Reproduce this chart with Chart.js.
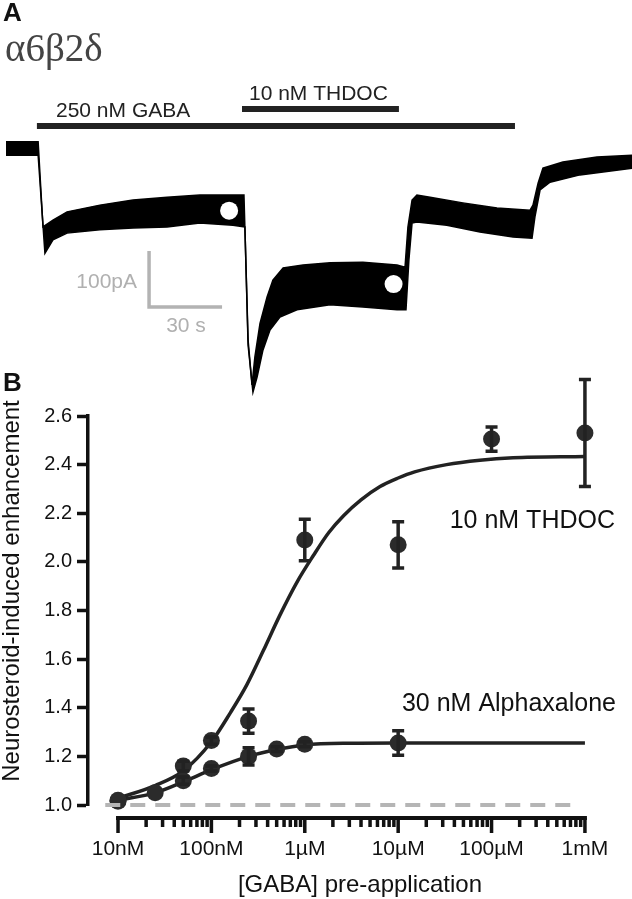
<!DOCTYPE html>
<html>
<head>
<meta charset="utf-8">
<script src="https://cdn.jsdelivr.net/npm/chart.js@4.4.0/dist/chart.umd.min.js"></script>
<style>
  html, body { margin: 0; padding: 0; background: #fff; }
  #wrap { position: relative; width: 632px; height: 899px; overflow: hidden; }
  canvas { position: absolute; left: 0; }
  #trace { top: 0; }
  #dose { top: 360px; }
</style>
</head>
<body>
<div id="wrap">
  <canvas id="trace" width="632" height="400"></canvas>
  <canvas id="dose" width="632" height="539"></canvas>
</div>
<script>
const FONT = '"Liberation Sans", Arial, Helvetica, sans-serif';
const INK = '#222';

// ---- panel A: current trace (time in s, current in pA), edges of the noisy band
const upperT = [0, 13.2, 15.2, 19.3, 25.1, 38.6, 52.2, 66.2, 79.7, 93.3, 97.8, 99.5, 101.1, 102.3, 104.4, 107.3, 109.7, 113.9, 122.1, 133.2, 146.7, 160.7, 164.0, 165.2, 166.9, 168.9, 174.3, 187.8, 201.8, 215.4, 216.6, 218.7, 220.7, 228.9, 242.9, 257.3];
const upperI = [11, 11, -141, -129, -114, -102, -93, -88, -84, -84, -84, -343, -423, -373, -313, -266, -236, -214, -209, -205, -204, -209, -213, -141, -93, -84, -88, -98, -107, -111, -102, -63, -36, -25, -16, -13];
const lowerT = [0, 13.2, 16.0, 19.3, 25.1, 38.6, 52.2, 66.2, 79.7, 93.3, 98.2, 99.5, 101.5, 103.2, 105.6, 108.5, 112.6, 119.6, 133.2, 146.7, 160.7, 164.4, 165.6, 166.9, 168.9, 181.2, 194.8, 208.4, 216.2, 217.4, 219.5, 223.6, 235.9, 257.3];
const lowerI = [-13, -13, -188, -164, -152, -146, -143, -141, -134, -138, -141, -352, -436, -409, -361, -325, -302, -289, -280, -284, -289, -289, -200, -134, -132, -138, -150, -159, -161, -123, -75, -61, -48, -36];
const gabaBarT = [12.7, 209.2];
const thdocBarT = [97.0, 161.5];
const markT = [91.7, 159.3];
const markI = [-112, -243];
const scaleT = [58.8, 58.8, 88.8];   // 30 s
const scaleI = [-184, -284, -284];   // 100 pA

// ---- panel B: dose response
const concTicks = [1e-8, 1e-7, 1e-6, 1e-5, 1e-4, 1e-3];
const concLabels = ['10nM', '100nM', '1µM', '10µM', '100µM', '1mM'];

const thdocConc = [1e-8, 5e-8, 1e-7, 2.5e-7, 1e-6, 1e-5, 1e-4, 1e-3];
const thdocMean = [1.02, 1.16, 1.265, 1.345, 2.09, 2.07, 2.505, 2.53];
const thdocSem  = [0, 0.02, 0.015, 0.05, 0.085, 0.095, 0.05, 0.22];

const alphaConc = [1e-8, 2.5e-8, 5e-8, 1e-7, 2.5e-7, 5e-7, 1e-6, 1e-5];
const alphaMean = [1.015, 1.05, 1.10, 1.15, 1.20, 1.23, 1.25, 1.255];
const alphaSem  = [0, 0, 0.015, 0.01, 0.035, 0.01, 0.01, 0.05];

// fitted curves
const thdocFitConc = [1e-8, 2.5e-8, 5e-8, 1e-7, 1.6e-7, 2.4e-7, 3.6e-7, 5.4e-7, 8.2e-7, 1.23e-6, 1.8e-6, 2.6e-6, 4e-6, 6.4e-6, 1e-5, 1.5e-5, 3.3e-5, 7.5e-5, 1.7e-4, 1e-3];
const thdocFitVal  = [1.028, 1.08, 1.14, 1.26, 1.38, 1.495, 1.635, 1.78, 1.915, 2.025, 2.12, 2.19, 2.255, 2.31, 2.345, 2.37, 2.40, 2.418, 2.428, 2.433];
const alphaFitConc = [1e-8, 2.5e-8, 5e-8, 1e-7, 2.5e-7, 5e-7, 1e-6, 3e-6, 1e-5, 1e-3];
const alphaFitVal  = [1.02, 1.05, 1.095, 1.145, 1.20, 1.228, 1.247, 1.254, 1.255, 1.255];

const baseConc = [7.3e-9, 7.9e-4];
const baseVal = [1.0, 1.0];

const pts = (xs, ys) => xs.map((v, i) => ({ x: v, y: ys[i] }));

// ---------------- panel A ----------------
const traceText = {
  id: 'traceText',
  afterDraw(chart) {
    const c = chart.ctx;
    c.save();
    c.fillStyle = '#111';
    c.font = 'bold 26px ' + FONT;
    c.fillText('A', 3, 21);
    c.fillStyle = '#444';
    c.font = '39px "Liberation Serif", "DejaVu Serif", serif';
    c.fillText('α6β2δ', 5, 61);
    c.fillStyle = INK;
    c.font = '21px ' + FONT;
    c.fillText('250 nM GABA', 56, 117);
    c.fillText('10 nM THDOC', 249, 100);
    c.fillStyle = '#b0b0b0';
    c.textAlign = 'right';
    c.fillText('100pA', 137, 288);
    c.textAlign = 'center';
    c.fillText('30 s', 186, 332);
    c.restore();
  }
};

new Chart(document.getElementById('trace'), {
  type: 'line',
  data: {
    datasets: [
      { data: pts(markT, markI), showLine: false, pointRadius: 9, pointBackgroundColor: '#fff', pointBorderWidth: 0 },
      { data: pts(gabaBarT, [39.3, 39.3]), borderColor: INK, borderWidth: 6, pointRadius: 0 },
      { data: pts(thdocBarT, [69.6, 69.6]), borderColor: INK, borderWidth: 6, pointRadius: 0 },
      { data: pts(scaleT, scaleI), borderColor: '#b3b3b3', borderWidth: 3.5, pointRadius: 0, borderJoinStyle: 'miter' },
      { data: pts(upperT, upperI), borderColor: '#000', borderWidth: 1.5, pointRadius: 0, fill: false },
      { data: pts(lowerT, lowerI), borderColor: '#000', borderWidth: 1.5, pointRadius: 0, fill: '-1', backgroundColor: '#000' }
    ]
  },
  options: {
    responsive: false,
    animation: false,
    events: [],
    layout: { padding: 0, autoPadding: false },
    plugins: { legend: { display: false }, tooltip: { enabled: false } },
    scales: {
      x: { type: 'linear', min: -2.47, max: 257.3, display: false },
      y: { type: 'linear', min: -450, max: 264.3, display: false }
    }
  },
  plugins: [traceText]
});

// ---------------- panel B ----------------
const doseDecor = {
  id: 'doseDecor',
  afterDatasetsDraw(chart) {
    const { ctx: c, scales: { x, y } } = chart;
    c.save();
    c.strokeStyle = INK;
    c.lineWidth = 3.5;
    [[thdocConc, thdocMean, thdocSem], [alphaConc, alphaMean, alphaSem]].forEach(([cs, ms, ss]) => {
      cs.forEach((v, i) => {
        if (!ss[i]) return;
        const px = x.getPixelForValue(v);
        const top = y.getPixelForValue(ms[i] + ss[i]);
        const bot = y.getPixelForValue(ms[i] - ss[i]);
        c.beginPath();
        c.moveTo(px, top); c.lineTo(px, bot);
        c.moveTo(px - 6, top); c.lineTo(px + 6, top);
        c.moveTo(px - 6, bot); c.lineTo(px + 6, bot);
        c.stroke();
      });
    });
    c.restore();
  },
  afterDraw(chart) {
    const { ctx: c, scales: { x } } = chart;
    c.save();
    // offset log axis
    const ya = 458;
    const x0 = x.getPixelForValue(concTicks[0]) - 2;
    const x1 = x.getPixelForValue(concTicks[concTicks.length - 1]) + 2;
    c.strokeStyle = '#111';
    c.lineWidth = 4;
    c.beginPath(); c.moveTo(x0, ya); c.lineTo(x1, ya); c.stroke();
    c.lineWidth = 3.5;
    c.beginPath();
    concTicks.forEach((d, k) => {
      const px = x.getPixelForValue(d);
      c.moveTo(px, ya); c.lineTo(px, ya + 15);
      if (k < concTicks.length - 1) {
        for (let m = 2; m <= 9; m++) {
          const pm = x.getPixelForValue(d * m);
          c.moveTo(pm, ya); c.lineTo(pm, ya + 9);
        }
      }
    });
    c.stroke();
    c.fillStyle = '#111';
    c.font = '21px ' + FONT;
    c.textAlign = 'center';
    concTicks.forEach((d, k) => c.fillText(concLabels[k], x.getPixelForValue(d), 495));

    // axis titles
    c.font = '24px ' + FONT;
    c.fillText('[GABA] pre-application', 360, 532);
    c.save();
    c.translate(19, 231);
    c.rotate(-Math.PI / 2);
    c.fillText('Neurosteroid-induced enhancement', 0, 0);
    c.restore();

    // curve labels
    c.font = '25px ' + FONT;
    c.textAlign = 'right';
    c.fillText('10 nM THDOC', 615, 168);
    c.fillText('30 nM Alphaxalone', 616, 351);

    c.textAlign = 'left';
    c.font = 'bold 26px ' + FONT;
    c.fillText('B', 3, 31);
    c.restore();
  }
};

new Chart(document.getElementById('dose'), {
  type: 'line',
  data: {
    datasets: [
      { data: pts(baseConc, baseVal), borderColor: '#b5b5b5', borderWidth: 4, borderDash: [15, 10], pointRadius: 0, clip: false },
      { data: pts(thdocConc, thdocMean), showLine: false, pointRadius: 8.5, pointBackgroundColor: '#2b2b2b', pointBorderWidth: 0, clip: false },
      { data: pts(alphaConc, alphaMean), showLine: false, pointRadius: 8.5, pointBackgroundColor: '#2b2b2b', pointBorderWidth: 0, clip: false },
      { data: pts(thdocFitConc, thdocFitVal), borderColor: INK, borderWidth: 3.5, pointRadius: 0, cubicInterpolationMode: 'monotone', clip: false },
      { data: pts(alphaFitConc, alphaFitVal), borderColor: INK, borderWidth: 3.5, pointRadius: 0, cubicInterpolationMode: 'monotone', clip: false }
    ]
  },
  options: {
    responsive: false,
    animation: false,
    events: [],
    layout: { padding: { left: 0, right: 32, top: 56, bottom: 94 }, autoPadding: false },
    plugins: { legend: { display: false }, tooltip: { enabled: false } },
    scales: {
      x: { type: 'logarithmic', min: 4.77e-9, max: 1.45e-3, display: false },
      y: {
        type: 'linear', min: 1.0, max: 2.6,
        border: { display: true, color: '#111', width: 3.5 },
        grid: { drawOnChartArea: false, drawTicks: true, tickLength: 11, tickWidth: 3.5, tickColor: '#111' },
        ticks: { stepSize: 0.2, color: '#111', padding: 5, font: { family: FONT, size: 20 },
                 callback: v => Number(v).toFixed(1) },
        afterFit: s => { s.width = 88; }
      }
    }
  },
  plugins: [doseDecor]
});
</script>
</body>
</html>
